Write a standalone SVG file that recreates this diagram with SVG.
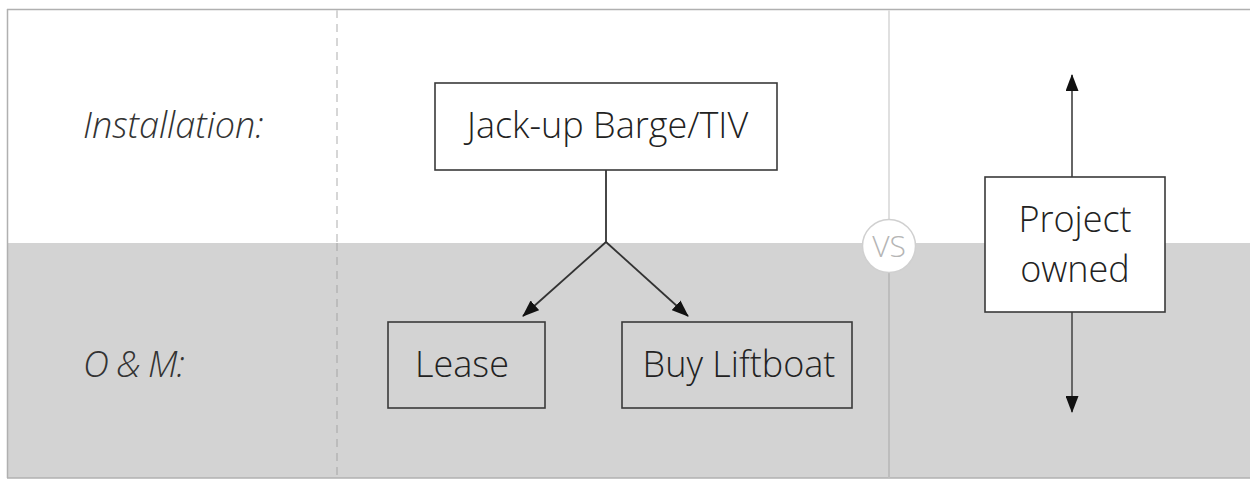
<svg xmlns="http://www.w3.org/2000/svg" width="1250" height="479" viewBox="0 0 1250 479">
<defs>
<style>
.t{font-family:"Open Sans","Noto Sans","Liberation Sans",sans-serif;font-weight:300;font-size:36px;fill:#222}
.lbl{font-family:"Open Sans","Noto Sans","Liberation Sans",sans-serif;font-weight:300;font-style:italic;font-size:36px;fill:#333}
.box{stroke:#3a3a3a;stroke-width:1.6}
.con{stroke:#333;stroke-width:1.8;fill:none}
.con2{stroke:#666;stroke-width:2;fill:none}
</style>
<marker id="ah" viewBox="0 0 17 13" refX="16" refY="6.5" markerWidth="17" markerHeight="13" markerUnits="userSpaceOnUse" orient="auto">
<path d="M0,0 L17,6.5 L0,13 Z" fill="#111"/>
</marker>
</defs>
<rect x="0" y="0" width="1250" height="479" fill="#fff"/>
<g id="background">
<rect x="7" y="243" width="1243" height="235" fill="#d3d3d3"/>
<line x1="7" y1="9.5" x2="1250" y2="9.5" stroke="#b0b0b0" stroke-width="1.5"/>
<line x1="7.5" y1="9" x2="7.5" y2="478" stroke="#b0b0b0" stroke-width="1.5"/>
<line x1="7" y1="478" x2="1250" y2="478" stroke="#b0b0b0" stroke-width="1.5"/>
<line x1="337" y1="10" x2="337" y2="243" stroke="#d6d6d6" stroke-width="2" stroke-dasharray="8,6"/>
<line x1="337" y1="243" x2="337" y2="478" stroke="#bcbcbc" stroke-width="2" stroke-dasharray="8,6"/>
<line x1="889" y1="10" x2="889" y2="243" stroke="#e0e0e0" stroke-width="2"/>
<line x1="889" y1="243" x2="889" y2="478" stroke="#bdbdbd" stroke-width="2"/>
</g>
<g id="labels">
<text class="lbl" x="83" y="138">Installation:</text>
<text class="lbl" x="83" y="377" letter-spacing="-1">O &amp; M:</text>
</g>
<g id="connectors">
<polyline class="con" points="606,170 606,242"/>
<line class="con" x1="606" y1="242" x2="523" y2="316" marker-end="url(#ah)"/>
<line class="con" x1="606" y1="242" x2="688" y2="316" marker-end="url(#ah)"/>
<line class="con2" x1="1072" y1="177" x2="1072" y2="75" marker-end="url(#ah)"/>
<line class="con2" x1="1072" y1="312" x2="1072" y2="412" marker-end="url(#ah)"/>
</g>
<g id="node-jackup">
<rect class="box" x="435" y="83" width="342" height="87" fill="#fff"/>
<text class="t" x="467" y="138">Jack-up Barge/TIV</text>
</g>
<g id="node-lease">
<rect class="box" x="388" y="322" width="157" height="86" fill="none"/>
<text class="t" x="462" y="377" text-anchor="middle">Lease</text>
</g>
<g id="node-buy">
<rect class="box" x="622" y="322" width="230" height="86" fill="none"/>
<text class="t" x="739" y="377" text-anchor="middle">Buy Liftboat</text>
</g>
<g id="node-vs">
<circle cx="889" cy="246" r="26.5" fill="#fff" stroke="#d0d0d0" stroke-width="1.5"/>
<text x="889" y="257" text-anchor="middle" style="font-family:'Open Sans','Noto Sans',sans-serif;font-weight:300;font-size:30px;fill:#b5b5b5">VS</text>
</g>
<g id="node-project">
<rect class="box" x="985" y="177" width="180" height="135" fill="#fff"/>
<text class="t" x="1075" y="232" text-anchor="middle">Project</text>
<text class="t" x="1075" y="282" text-anchor="middle">owned</text>
</g>
</svg>
